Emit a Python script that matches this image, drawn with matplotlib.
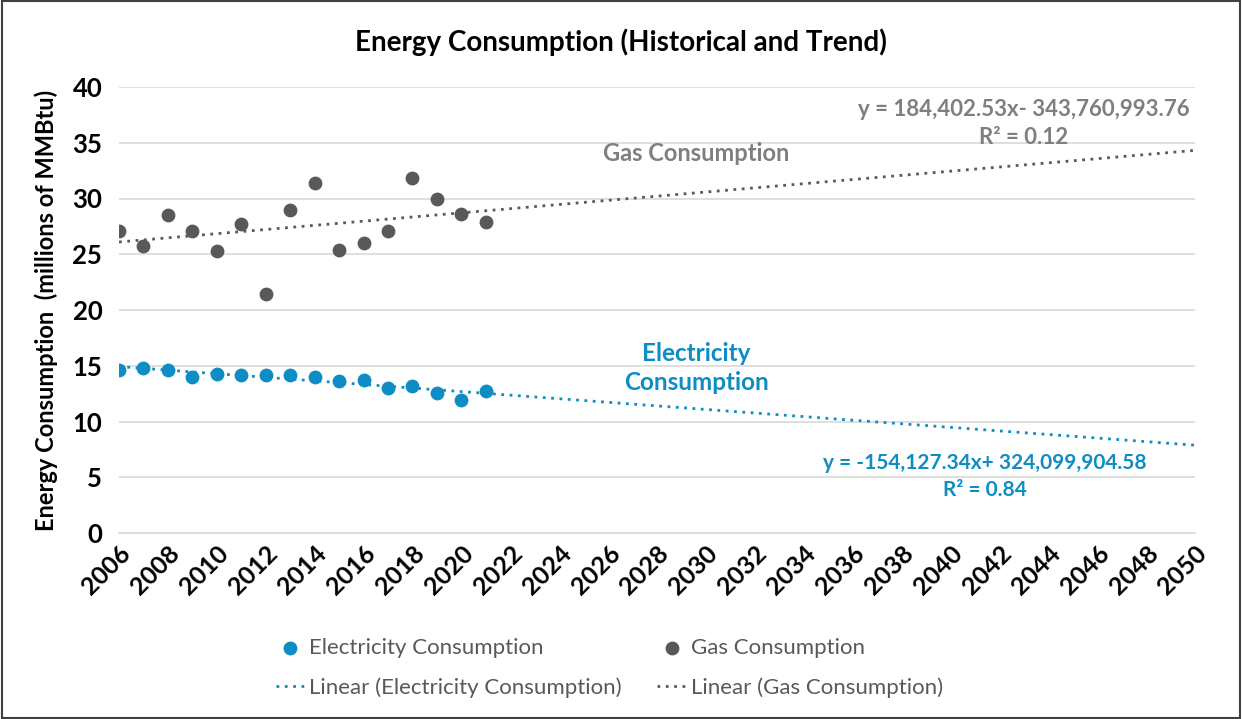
import matplotlib.pyplot as plt
import numpy as np
from matplotlib.patches import Rectangle

plt.rcParams['font.family'] = ['Lato', 'DejaVu Sans']

years = np.arange(2006, 2022)
electricity = [14.6, 14.8, 14.6, 14.0, 14.3, 14.2, 14.2, 14.2, 14.0, 13.6, 13.7, 13.0, 13.2, 12.6, 11.9, 12.7]
gas = [27.1, 25.7, 28.5, 27.1, 25.3, 27.7, 21.4, 29.0, 31.4, 25.4, 26.0, 27.1, 31.8, 30.0, 28.6, 27.9]
trend_years = [2006, 2050]
x_ticks = list(range(2006, 2051, 2))
y_ticks = list(range(0, 41, 5))

BLUE = '#0E8DC4'
GRAY = '#595959'
TEXT = '#595959'

fig = plt.figure(figsize=(12.42, 7.19), dpi=100)
ax = fig.add_axes([119 / 1242, 1 - 533 / 719, (1195 - 119) / 1242, (533 - 87) / 719])

# linear trends fitted from the points
pe = np.polyfit(years, electricity, 1)
pg = np.polyfit(years, gas, 1)
tx = np.array(trend_years)

sc_e = ax.scatter(years, electricity, s=80, color=BLUE, zorder=3, label='Electricity Consumption')
sc_g = ax.scatter(years, gas, s=80, color=GRAY, zorder=3, label='Gas Consumption')
ln_e, = ax.plot(tx, np.polyval(pe, tx), ls=(0, (1, 2)), lw=2, color=BLUE, zorder=2,
                label='Linear (Electricity Consumption)')
ln_g, = ax.plot(tx, np.polyval(pg, tx), ls=(0, (1, 2)), lw=2, color=GRAY, zorder=2,
                label='Linear (Gas Consumption)')

ax.set_xlim(2006, 2050)
ax.set_ylim(0, 40)
ax.set_xticks(x_ticks)
ax.set_yticks(y_ticks)
ax.set_xticklabels([str(t) for t in x_ticks], rotation=45, ha='right', rotation_mode='anchor',
                   fontsize=18, fontweight='bold', color='black')
ax.set_yticklabels([str(t) for t in y_ticks], fontsize=18.5, fontweight='bold', color='black')
ax.tick_params(length=0, pad=12)
ax.tick_params(axis='x', pad=6)
ax.grid(axis='y', color='#d9d9d9', lw=1.2)
ax.set_axisbelow(True)
for s in ['top', 'right', 'left']:
    ax.spines[s].set_visible(False)
ax.spines['bottom'].set_color('#d9d9d9')
ax.spines['bottom'].set_linewidth(1.2)

ax.set_ylabel('Energy Consumption  (millions of MMBtu)', fontsize=17, fontweight='bold',
              color='black', labelpad=10)
fig.text(0.5, 1 - 42 / 719, 'Energy Consumption (Historical and Trend)', ha='center', va='center',
         fontsize=20, fontweight='bold', color='black')

ax.text(2029.6, 34.0, 'Gas Consumption', ha='center', va='center', fontsize=17,
        fontweight='bold', color='#7f7f7f')
ax.text(2029.6, 14.8, 'Electricity\nConsumption', ha='center', va='center', fontsize=17.5,
        fontweight='bold', color=BLUE, linespacing=1.3)
ax.text(2043.0, 36.75, 'y = 184,402.53x- 343,760,993.76\nR² = 0.12', ha='center', va='center',
        fontsize=16, fontweight='bold', color='#7f7f7f', linespacing=1.4)
ax.text(2041.4, 5.1, 'y = -154,127.34x+ 324,099,904.58\nR² = 0.84', ha='center', va='center',
        fontsize=15, fontweight='bold', color=BLUE, linespacing=1.45)

leg = fig.legend([sc_e, ln_e, sc_g, ln_g],
                 ['Electricity Consumption', 'Linear (Electricity Consumption)',
                  'Gas Consumption', 'Linear (Gas Consumption)'],
                 loc='center', bbox_to_anchor=(0.4905, 1 - 668 / 719), ncol=2, frameon=False,
                 fontsize=16, handlelength=1.3, columnspacing=1.6, labelspacing=0.85,
                 handletextpad=0.2)
for t in leg.get_texts():
    t.set_color(TEXT)

fig.patches.append(Rectangle((0.002, 0.002), 0.996, 0.996, transform=fig.transFigure,
                             fill=False, edgecolor='#404040', lw=1.5))

fig.savefig('out.png', dpi=100)
